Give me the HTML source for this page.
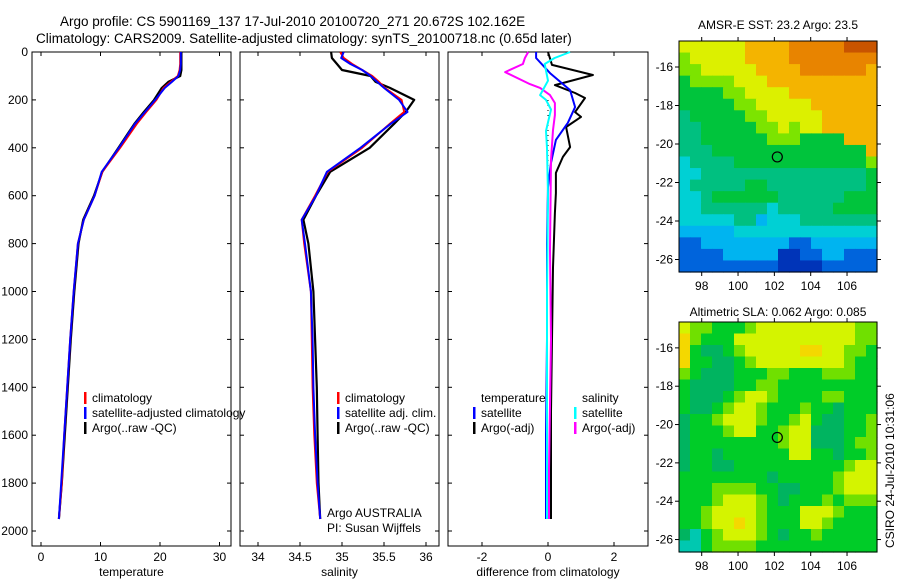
<!DOCTYPE html>
<html><head><meta charset="utf-8"><style>
html,body{margin:0;padding:0;background:#fff;}
svg{display:block;font-family:"Liberation Sans",sans-serif;}
</style></head><body>
<svg id="c" width="900" height="580" viewBox="0 0 900 580" xmlns="http://www.w3.org/2000/svg">
<text x="60" y="26" font-size="13.5">Argo profile: CS 5901169_137 17-Jul-2010 20100720_271 20.672S 102.162E</text>
<text x="36" y="43" font-size="13.5">Climatology: CARS2009. Satellite-adjusted climatology: synTS_20100718.nc (0.65d later)</text>
<text x="778" y="29" font-size="12" text-anchor="middle">AMSR-E SST: 23.2 Argo: 23.5</text>
<text x="778" y="316" font-size="12" text-anchor="middle">Altimetric SLA: 0.062 Argo: 0.085</text>
<text x="0" y="0" font-size="12" transform="translate(894,548) rotate(-90)">CSIRO 24-Jul-2010 10:31:06</text>
<g id="g"></g>
</svg>
<script>
// ---- data ----
const depth = [0,25,50,75,100,125,150,200,250,300,400,500,600,700,800,1000,1200,1400,1600,1800,1950];
const tempClim = [23.4,23.4,23.4,23.3,23.0,21.8,20.6,19.4,17.7,16.1,13.3,10.3,9.0,7.2,6.2,5.5,4.9,4.4,3.9,3.5,3.0];
const tempSat  = [23.5,23.5,23.5,23.4,23.1,22.0,20.8,19.2,17.5,15.8,13.1,10.2,9.0,7.2,6.2,5.5,4.9,4.4,3.9,3.4,3.0];
const tempArgo = [23.6,23.6,23.6,23.6,23.4,21.4,20.3,19.0,17.3,15.7,13.0,10.3,8.9,7.1,6.3,5.6,5.0,4.5,4.0,3.5,3.0];
const salClim = [34.98,35.02,35.12,35.24,35.36,35.44,35.51,35.71,35.74,35.57,35.24,34.83,34.68,34.52,34.55,34.63,34.64,34.65,34.67,34.70,34.74];
const salSat  = [35.02,34.99,35.10,35.24,35.34,35.42,35.50,35.68,35.78,35.58,35.22,34.82,34.69,34.52,34.56,34.63,34.65,34.66,34.68,34.71,34.74];
const salArgo = [34.87,34.88,34.94,35.00,35.34,35.40,35.57,35.86,35.76,35.62,35.33,34.86,34.69,34.54,34.60,34.66,34.68,34.70,34.71,34.72,34.74];
const dDepthBlue = [0,25,88,159,230,296,367,463,564,800,1200,1600,1950];
const dTempSat = [-0.36,-0.36,0.06,0.67,0.82,0.6,0.24,0.09,0,-0.03,-0.03,-0.06,-0.06];
const dDepthBlack = [0,54,96,138,171,192,251,271,313,397,438,505,589,672,900,1200,1500,1950];
const dTempArgo = [0,0.12,1.36,0.21,0.82,1.12,0.82,1.0,0.55,0.67,0.45,0.24,0.24,0.21,0.15,0.12,0.09,0.09];
const dDepthMag = [0,25,50,84,134,150,180,213,263,326,451,827,1200,1745,1950];
const dSalArgo = [-0.6,-0.7,-0.76,-1.3,-0.55,-0.24,0.06,0.21,0.21,0.15,0.09,0.06,0.09,0.03,0.03];
const dDepthCyan = [0,25,50,120,180,200,240,330,400,600,1000,1950];
const dSalSat = [0.67,0.2,-0.1,0,-0.24,-0.06,0.09,-0.06,-0.03,0,-0.03,-0.03];
const depthTicks = [0,200,400,600,800,1000,1200,1400,1600,1800,2000];
const tempTicks = [0,10,20,30];
const salTicks = [34,34.5,35,35.5,36];
const diffTicks = [-2,0,2];
const lonTicks = [98,100,102,104,106];
const latTicks = [-16,-18,-20,-22,-24,-26];
const sstGrid = [
"777777888899999aaa","677777888899999999","667777788889999998","566667778888888888",
"555566777788888888","555556677777888888","455555667777788888","445555566767788888",
"445555556665555888","444555555555555558","344445555555555556","334444444444444445",
"344444554444444445","334555555444444555","334444443444445555","333334423334444444",
"222223333333333333","112222222211222222","111122222001122111","111111111000011111"];
const slaGrid = [
"766555677777777766","865557777777777766","854456777778877665","855445677777777655",
"654445556655566655","544445566555555555","544456776555566555","544567765556554555",
"455677765567544556","455567755677444556","455555555677444566","455455555577554556",
"455445555555555677","555555554555556777","555666655445556777","555677765455565666",
"556777765557776555","556778765557765555","435677765455655555","335666655555555555"];
const argoLon = 102.162, argoLat = -20.672;

// ---- helpers ----
const NS="http://www.w3.org/2000/svg";
const G=document.getElementById('g');
function mk(tag,attrs,parent){const e=document.createElementNS(NS,tag);for(const k in attrs)e.setAttribute(k,attrs[k]);(parent||G).appendChild(e);return e;}
const Y0=52, YS=0.2395;
const yD = d => Y0 + d*YS;
const panels = [
 {x0:32,x1:231,fx:v=>41+v*5.95,ticks:tempTicks,label:'temperature',name:'temperature'},
 {x0:240,x1:439,fx:v=>258+(v-34)*84,ticks:salTicks,label:'salinity',name:'salinity'},
 {x0:448,x1:648,fx:v=>548+v*33,ticks:diffTicks,label:'difference from climatology',name:'difference'}
];
const BOT=546;
panels.forEach((p,i)=>{
  const r=mk('rect',{x:p.x0,y:Y0,width:p.x1-p.x0,height:BOT-Y0,fill:'#fff',stroke:'#000','stroke-width':1});
  
  
  p.ticks.forEach(t=>{
    const x=p.fx(t);
    mk('line',{x1:x,x2:x,y1:BOT,y2:BOT-4,stroke:'#000'});
    mk('line',{x1:x,x2:x,y1:Y0,y2:Y0+4,stroke:'#000'});
    const tx=mk('text',{x:x,y:561,'font-size':12,'text-anchor':'middle'});
    tx.textContent=String(t);
    
    
  });
  depthTicks.forEach(d=>{
    const y=yD(d);
    mk('line',{x1:p.x0,x2:p.x0+4,y1:y,y2:y,stroke:'#000'});
    mk('line',{x1:p.x1,x2:p.x1-4,y1:y,y2:y,stroke:'#000'});
  });
  const lb=mk('text',{x:(p.x0+p.x1)/2,y:576,'font-size':12,'text-anchor':'middle'});
  lb.textContent=p.label;
  
  
});
depthTicks.forEach(d=>{
  const t=mk('text',{x:28,y:yD(d)+4,'font-size':12,'text-anchor':'end'});
  t.textContent=String(d);
  
  
});
function line(px,depths,vals,color,w,name){
  const pts=vals.map((v,i)=>px.fx(v).toFixed(1)+','+yD(depths[i]).toFixed(1)).join(' ');
  const e=mk('polyline',{points:pts,fill:'none',stroke:color,'stroke-width':w,'stroke-linejoin':'round'});
  
  
}
line(panels[0],depth,tempArgo,'#000',2.2,'temp-argo-line');
line(panels[0],depth,tempClim,'#f00',2,'temp-climatology-line');
line(panels[0],depth,tempSat,'#00f',2,'temp-satellite-line');
line(panels[1],depth,salArgo,'#000',2.2,'sal-argo-line');
line(panels[1],depth,salClim,'#f00',2,'sal-climatology-line');
line(panels[1],depth,salSat,'#00f',2,'sal-satellite-line');
mk('line',{x1:548,x2:548,y1:100,y2:235,stroke:'#000','stroke-dasharray':'1,4'});
line(panels[2],dDepthBlack,dTempArgo,'#000',2,'diff-temp-argo-line');
line(panels[2],dDepthBlue,dTempSat,'#00f',2,'diff-temp-satellite-line');
line(panels[2],dDepthMag,dSalArgo,'#f0f',2,'diff-sal-argo-line');
line(panels[2],dDepthCyan,dSalSat,'#0ff',2,'diff-sal-satellite-line');

function legend(x,y,items,name){
  items.forEach((it,i)=>{
    const yy=y+i*15;
    if(it[1]) mk('rect',{x:x,y:yy-10,width:2.5,height:12,fill:it[1]});
    const t=mk('text',{x:x+8,y:yy,'font-size':12});
    t.textContent=it[0];
    
    
  });
}
legend(84,402,[['climatology','#f00'],['satellite-adjusted climatology','#00f'],['Argo(..raw -QC)','#000']],'temp-legend');
legend(337,402,[['climatology','#f00'],['satellite adj. clim.','#00f'],['Argo(..raw -QC)','#000']],'sal-legend');
legend(473,402,[['temperature',null],['satellite','#00f'],['Argo(-adj)','#000']],'diff-temp-legend');
legend(574,402,[['salinity',null],['satellite','#0ff'],['Argo(-adj)','#f0f']],'diff-sal-legend');
[['Argo AUSTRALIA',517],['PI: Susan Wijffels',532]].forEach(a=>{
  const t=mk('text',{x:327,y:a[1],'font-size':12});t.textContent=a[0];
  
  
});

// ---- maps ----
const sstCol={'0':'#0034b8','1':'#0064dc','2':'#00b4f0','3':'#00d0d4','4':'#00c080','5':'#00c43c','6':'#7ce400','7':'#dcf000','8':'#f4b400','9':'#e88400','a':'#c85400'};
const slaCol={'3':'#00c8b0','4':'#00b460','5':'#00cc28','6':'#70e000','7':'#d4f400','8':'#f4d800'};
function map(y0,y1,grid,cols,name,latTop){
  const x0=679,x1=877;
  const lonL=96.75, lonR=107.65;
  const fx=l=>x0+(l-lonL)/(lonR-lonL)*(x1-x0);
  const fy=la=>y0+(latTop-la)*((y1-y0)/12);
  const nr=grid.length,nc=grid[0].length,cw=(x1-x0)/nc,ch=(y1-y0)/nr;
  grid.forEach((row,r)=>{for(let c=0;c<nc;c++){
    const e=mk('rect',{x:(x0+c*cw).toFixed(2),y:(y0+r*ch).toFixed(2),width:(cw+0.6).toFixed(2),height:(ch+0.6).toFixed(2),fill:cols[row[c]]});
    
    
  }});
  const f=mk('rect',{x:x0,y:y0,width:x1-x0,height:y1-y0,fill:'none',stroke:'#000'});
  
  
  lonTicks.forEach(l=>{const x=fx(l);
    mk('line',{x1:x,x2:x,y1:y1,y2:y1+4,stroke:'#000'});
    mk('line',{x1:x,x2:x,y1:y0,y2:y0-4,stroke:'#000'});
    const t=mk('text',{x:x,y:y1+18,'font-size':12,'text-anchor':'middle'});t.textContent=String(l);
    
    });
  latTicks.forEach(la=>{const y=fy(la);
    mk('line',{x1:x0,x2:x0-4,y1:y,y2:y,stroke:'#000'});
    mk('line',{x1:x1,x2:x1+4,y1:y,y2:y,stroke:'#000'});
    const t=mk('text',{x:x0-6,y:y+4,'font-size':12,'text-anchor':'end'});t.textContent=String(la);
    
    });
  const m=mk('circle',{cx:fx(argoLon),cy:fy(argoLat),r:5,fill:'none',stroke:'#000','stroke-width':1.2});
  
  
}
map(41,272,sstGrid,sstCol,'sst-map',-14.65);
map(322,552,slaGrid,slaCol,'sla-map',-14.65);
</script>
</body></html>
